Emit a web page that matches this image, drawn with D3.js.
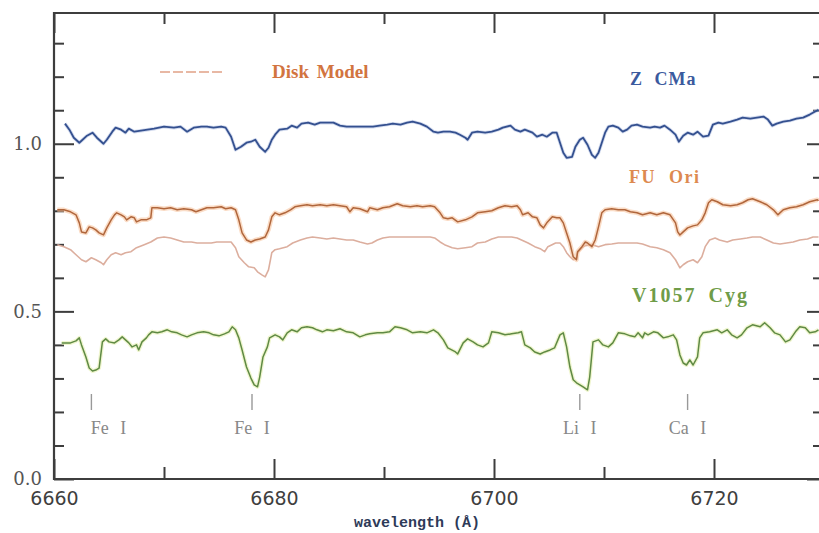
<!DOCTYPE html>
<html><head><meta charset="utf-8">
<script src="https://cdn.jsdelivr.net/npm/d3@7"></script>
<style>html,body{margin:0;padding:0;background:#fff;overflow:hidden}</style>
</head><body>
<svg id="chart" width="819" height="533"></svg>
<script>
// Normalised spectra, [wavelength (Å), relative flux]
const zCMa = [
[6661.0,1.060],[6661.4,1.042],[6661.8,1.018],[6662.3,1.003],[6662.5,1.009],[6663.0,1.024],[6663.5,1.033],[6663.9,1.018],
[6664.5,1.000],[6664.8,1.012],[6665.3,1.036],[6665.6,1.048],[6666.1,1.042],[6666.5,1.033],[6666.8,1.045],[6667.3,1.036],
[6667.9,1.039],[6668.5,1.042],[6669.1,1.045],[6670.0,1.051],[6670.9,1.048],[6671.5,1.051],[6672.1,1.036],[6672.7,1.048],
[6673.4,1.051],[6673.9,1.051],[6674.5,1.048],[6675.2,1.051],[6675.6,1.048],[6676.1,1.021],[6676.5,0.982],[6677.0,0.991],
[6677.5,1.003],[6677.9,1.006],[6678.3,1.012],[6678.7,0.991],[6679.2,0.976],[6679.5,0.988],[6679.8,1.012],[6680.1,1.027],
[6680.5,1.042],[6681.2,1.045],[6681.6,1.054],[6682.1,1.048],[6682.5,1.060],[6683.1,1.063],[6683.7,1.057],[6684.2,1.063],
[6684.8,1.063],[6685.4,1.063],[6686.0,1.054],[6686.6,1.051],[6687.2,1.051],[6687.8,1.051],[6688.5,1.051],[6689.0,1.051],
[6689.6,1.054],[6690.3,1.057],[6690.8,1.060],[6691.5,1.057],[6692.1,1.063],[6692.6,1.066],[6693.3,1.060],[6693.9,1.051],
[6694.5,1.036],[6694.9,1.033],[6695.4,1.036],[6696.0,1.036],[6696.5,1.033],[6696.9,1.027],[6697.4,1.018],[6697.6,1.012],
[6698.0,1.033],[6698.5,1.036],[6699.2,1.033],[6699.8,1.036],[6700.4,1.042],[6700.8,1.048],[6701.5,1.054],[6701.9,1.042],
[6702.4,1.036],[6702.8,1.042],[6703.5,1.033],[6703.9,1.021],[6704.4,1.027],[6704.8,1.021],[6705.3,1.033],[6705.7,1.033],
[6706.0,1.003],[6706.3,0.973],[6706.6,0.958],[6707.1,0.961],[6707.4,0.991],[6707.8,1.012],[6708.1,1.018],[6708.5,0.997],
[6708.9,0.967],[6709.2,0.958],[6709.5,0.973],[6709.8,1.003],[6710.1,1.033],[6710.4,1.051],[6710.8,1.054],[6711.3,1.048],
[6711.7,1.036],[6712.1,1.042],[6712.5,1.054],[6713.0,1.057],[6713.5,1.051],[6714.2,1.048],[6714.6,1.051],[6715.1,1.048],
[6715.5,1.054],[6716.0,1.042],[6716.5,1.027],[6716.8,1.006],[6717.2,1.024],[6717.6,1.033],[6718.1,1.027],[6718.5,1.036],
[6719.0,1.021],[6719.5,1.024],[6719.9,1.057],[6720.4,1.063],[6720.8,1.060],[6721.5,1.066],[6722.1,1.072],[6722.6,1.078],
[6723.3,1.075],[6723.9,1.078],[6724.5,1.081],[6724.9,1.072],[6725.3,1.054],[6725.7,1.060],[6726.3,1.066],[6726.9,1.069],
[6727.5,1.075],[6728.1,1.078],[6728.7,1.087],[6729.2,1.096],[6729.5,1.101]
];
const fuOri = [
[6660.3,0.803],[6660.9,0.803],[6661.5,0.797],[6662.0,0.788],[6662.3,0.764],[6662.5,0.737],[6662.9,0.734],[6663.2,0.752],
[6663.5,0.749],[6663.8,0.743],[6664.1,0.734],[6664.5,0.728],[6664.8,0.749],[6665.2,0.773],[6665.5,0.788],[6665.7,0.794],
[6666.1,0.788],[6666.4,0.782],[6666.6,0.773],[6667.0,0.782],[6667.3,0.779],[6667.5,0.767],[6667.9,0.773],[6668.4,0.773],
[6668.8,0.779],[6668.9,0.809],[6669.4,0.809],[6670.0,0.806],[6670.6,0.809],[6671.2,0.803],[6671.8,0.806],[6672.5,0.803],
[6672.9,0.797],[6673.4,0.803],[6673.9,0.809],[6674.5,0.809],[6675.2,0.812],[6675.6,0.806],[6676.1,0.809],[6676.5,0.803],
[6676.8,0.773],[6677.1,0.734],[6677.5,0.713],[6677.9,0.707],[6678.3,0.713],[6678.7,0.716],[6679.2,0.722],[6679.5,0.743],
[6679.8,0.782],[6680.1,0.794],[6680.5,0.788],[6681.0,0.794],[6681.5,0.803],[6681.9,0.812],[6682.4,0.815],[6683.0,0.818],
[6683.5,0.815],[6684.2,0.818],[6684.8,0.815],[6685.4,0.818],[6686.0,0.815],[6686.6,0.812],[6686.9,0.797],[6687.2,0.809],
[6687.8,0.806],[6688.5,0.797],[6688.7,0.809],[6689.4,0.803],[6689.9,0.809],[6690.5,0.812],[6691.2,0.821],[6691.7,0.815],
[6692.4,0.812],[6693.0,0.815],[6693.5,0.812],[6694.2,0.815],[6694.6,0.812],[6695.1,0.794],[6695.4,0.779],[6695.8,0.776],
[6696.2,0.779],[6696.7,0.767],[6697.4,0.773],[6698.0,0.782],[6698.5,0.794],[6699.2,0.797],[6699.8,0.800],[6700.4,0.809],
[6701.0,0.815],[6701.6,0.812],[6702.1,0.815],[6702.4,0.803],[6702.6,0.788],[6703.1,0.794],[6703.5,0.782],[6703.9,0.779],
[6704.2,0.758],[6704.5,0.749],[6704.8,0.764],[6705.3,0.782],[6705.7,0.779],[6706.0,0.779],[6706.3,0.764],[6706.6,0.734],
[6706.9,0.704],[6707.2,0.663],[6707.5,0.654],[6707.6,0.678],[6708.0,0.693],[6708.3,0.707],[6708.5,0.704],[6708.9,0.693],
[6709.2,0.713],[6709.5,0.752],[6709.8,0.794],[6710.1,0.803],[6710.7,0.806],[6711.3,0.803],[6711.9,0.803],[6712.4,0.797],
[6713.0,0.794],[6713.5,0.788],[6714.2,0.794],[6714.8,0.788],[6715.4,0.794],[6716.0,0.788],[6716.5,0.764],[6716.7,0.737],
[6716.9,0.728],[6717.2,0.737],[6717.6,0.749],[6718.1,0.755],[6718.5,0.758],[6718.9,0.773],[6719.2,0.794],[6719.5,0.824],
[6719.8,0.833],[6720.3,0.827],[6720.8,0.818],[6721.5,0.815],[6722.1,0.818],[6722.6,0.824],[6723.1,0.833],[6723.5,0.836],
[6724.2,0.827],[6724.8,0.818],[6725.4,0.803],[6725.8,0.788],[6726.3,0.803],[6726.9,0.809],[6727.5,0.812],[6728.1,0.818],
[6728.7,0.827],[6729.4,0.833],[6729.5,0.830]
];
const diskModel = [
[6660.3,0.699],[6660.9,0.693],[6661.5,0.684],[6662.0,0.669],[6662.5,0.654],[6662.9,0.648],[6663.4,0.660],[6663.8,0.654],
[6664.3,0.645],[6664.5,0.639],[6664.8,0.654],[6665.2,0.669],[6665.6,0.675],[6666.1,0.669],[6666.5,0.675],[6667.0,0.678],
[6667.5,0.690],[6668.2,0.699],[6668.8,0.707],[6669.4,0.719],[6670.0,0.722],[6670.6,0.719],[6671.2,0.713],[6671.8,0.707],
[6672.5,0.707],[6673.0,0.704],[6673.6,0.704],[6674.3,0.704],[6674.8,0.707],[6675.5,0.707],[6676.1,0.707],[6676.5,0.690],
[6676.8,0.663],[6677.3,0.645],[6677.7,0.633],[6678.2,0.630],[6678.5,0.618],[6678.9,0.609],[6679.2,0.603],[6679.5,0.624],
[6679.8,0.675],[6680.1,0.684],[6680.5,0.687],[6681.2,0.693],[6681.7,0.704],[6682.4,0.713],[6683.0,0.719],[6683.5,0.722],
[6684.2,0.719],[6684.8,0.716],[6685.4,0.719],[6686.0,0.716],[6686.6,0.713],[6687.2,0.713],[6687.8,0.707],[6688.5,0.701],
[6688.9,0.704],[6689.4,0.713],[6689.9,0.719],[6690.5,0.722],[6691.2,0.722],[6691.7,0.722],[6692.4,0.722],[6693.0,0.722],
[6693.5,0.722],[6694.2,0.722],[6694.6,0.719],[6695.1,0.707],[6695.5,0.699],[6696.2,0.690],[6696.7,0.687],[6697.4,0.690],
[6698.0,0.693],[6698.5,0.704],[6699.2,0.707],[6699.8,0.716],[6700.4,0.722],[6701.0,0.722],[6701.6,0.722],[6702.1,0.719],
[6702.5,0.713],[6703.1,0.704],[6703.7,0.693],[6704.2,0.687],[6704.6,0.678],[6704.9,0.693],[6705.6,0.704],[6706.0,0.704],
[6706.3,0.693],[6706.6,0.675],[6706.9,0.663],[6707.2,0.654],[6707.5,0.660],[6707.6,0.675],[6708.0,0.690],[6708.3,0.696],
[6708.9,0.699],[6709.5,0.693],[6710.1,0.699],[6710.7,0.701],[6711.3,0.704],[6711.9,0.704],[6712.4,0.704],[6713.0,0.704],
[6713.5,0.701],[6714.2,0.693],[6714.8,0.690],[6715.4,0.684],[6716.0,0.675],[6716.5,0.654],[6716.9,0.630],[6717.2,0.639],
[6717.6,0.648],[6718.1,0.654],[6718.5,0.645],[6718.9,0.663],[6719.2,0.693],[6719.6,0.713],[6720.1,0.719],[6720.5,0.713],
[6721.2,0.707],[6721.7,0.713],[6722.4,0.716],[6723.0,0.719],[6723.5,0.722],[6724.2,0.722],[6724.8,0.713],[6725.4,0.704],
[6726.0,0.701],[6726.6,0.704],[6727.2,0.707],[6727.8,0.713],[6728.5,0.716],[6729.0,0.722],[6729.5,0.722]
];
const v1057Cyg = [
[6660.7,0.406],[6661.1,0.406],[6661.5,0.406],[6662.0,0.412],[6662.3,0.421],[6662.5,0.400],[6662.9,0.364],[6663.2,0.331],
[6663.5,0.322],[6663.8,0.325],[6664.1,0.331],[6664.4,0.409],[6664.7,0.418],[6665.0,0.409],[6665.5,0.406],[6665.9,0.415],
[6666.2,0.424],[6666.5,0.415],[6666.8,0.406],[6667.1,0.394],[6667.5,0.400],[6667.7,0.385],[6668.0,0.409],[6668.4,0.421],
[6668.6,0.430],[6668.9,0.439],[6669.4,0.436],[6669.8,0.439],[6670.3,0.445],[6670.7,0.439],[6671.2,0.436],[6671.6,0.430],
[6672.1,0.424],[6672.5,0.430],[6673.0,0.436],[6673.6,0.439],[6674.1,0.436],[6674.5,0.430],[6675.0,0.427],[6675.5,0.433],
[6675.9,0.439],[6676.2,0.454],[6676.5,0.445],[6676.8,0.421],[6677.1,0.385],[6677.5,0.334],[6677.9,0.301],[6678.2,0.281],
[6678.5,0.275],[6678.7,0.304],[6679.0,0.364],[6679.4,0.394],[6679.6,0.421],[6680.1,0.430],[6680.5,0.424],[6680.8,0.415],
[6681.2,0.436],[6681.6,0.445],[6682.1,0.439],[6682.5,0.451],[6683.0,0.454],[6683.5,0.451],[6683.9,0.445],[6684.4,0.439],
[6684.8,0.445],[6685.4,0.442],[6686.0,0.448],[6686.6,0.439],[6687.2,0.436],[6687.8,0.424],[6688.3,0.430],[6688.7,0.433],
[6689.4,0.436],[6689.9,0.436],[6690.5,0.439],[6691.0,0.454],[6691.5,0.451],[6692.1,0.445],[6692.6,0.436],[6693.3,0.439],
[6693.9,0.436],[6694.5,0.445],[6694.9,0.436],[6695.4,0.415],[6695.8,0.391],[6696.5,0.379],[6696.7,0.373],[6697.2,0.406],
[6697.6,0.418],[6698.1,0.409],[6698.5,0.400],[6699.0,0.394],[6699.5,0.406],[6699.8,0.439],[6700.4,0.436],[6701.0,0.430],
[6701.6,0.433],[6702.2,0.436],[6702.5,0.439],[6702.8,0.400],[6703.3,0.391],[6703.7,0.379],[6704.2,0.373],[6704.6,0.379],
[6705.1,0.385],[6705.5,0.391],[6706.0,0.430],[6706.3,0.436],[6706.6,0.394],[6706.9,0.334],[6707.2,0.296],[6707.5,0.287],
[6707.8,0.281],[6708.1,0.275],[6708.5,0.266],[6708.7,0.304],[6709.0,0.409],[6709.5,0.415],[6709.9,0.400],[6710.4,0.394],
[6710.8,0.406],[6711.3,0.436],[6711.9,0.433],[6712.4,0.427],[6712.8,0.424],[6713.1,0.436],[6713.5,0.421],[6713.7,0.436],
[6714.0,0.430],[6714.5,0.439],[6714.9,0.436],[6715.4,0.421],[6715.8,0.424],[6716.3,0.430],[6716.6,0.415],[6716.9,0.370],
[6717.2,0.346],[6717.5,0.340],[6717.8,0.355],[6718.1,0.340],[6718.5,0.364],[6718.7,0.421],[6719.0,0.436],[6719.6,0.439],
[6720.3,0.445],[6720.7,0.436],[6721.2,0.445],[6721.6,0.430],[6722.1,0.421],[6722.5,0.430],[6723.0,0.451],[6723.5,0.460],
[6724.2,0.454],[6724.6,0.466],[6725.1,0.451],[6725.5,0.436],[6726.0,0.430],[6726.5,0.409],[6726.9,0.415],[6727.4,0.439],
[6727.8,0.454],[6728.3,0.451],[6728.7,0.436],[6729.2,0.439],[6729.5,0.445]
];

// Axis ticks
const xMajorTicks = [6660, 6680, 6700, 6720];
const xMinorTicks = [6670, 6690, 6710, 6730];
const yMajorTicks = [0.0, 0.5, 1.0];
const yMinorTicks = [0.1, 0.2, 0.3, 0.4, 0.6, 0.7, 0.8, 0.9, 1.1, 1.2, 1.3];

// Identified absorption lines
const lineNames = ["Fe I", "Fe I", "Li I", "Ca I"];
const lineWavelengths = [6663.4, 6678.0, 6707.8, 6717.6];

// Series labels
const seriesNames = ["Z CMa", "FU Ori", "V1057 Cyg"];
const legendName = "Disk Model";

const svg = d3.select("#chart");
const W = 819, H = 533;
const mLeft = 54, mTop = 13, mBottom = 479, mRight = 824;

const x = d3.scaleLinear().domain([6660, 6730]).range([mLeft, mRight]);
const y = d3.scaleLinear().domain([0, 1.39]).range([mBottom, mTop]);

svg.append("rect").attr("width", W).attr("height", H).attr("fill", "#fff");

svg.append("defs").append("clipPath").attr("id", "plotClip")
  .append("rect").attr("x", mLeft).attr("y", mTop).attr("width", mRight - mLeft).attr("height", mBottom - mTop);

const axisColor = "#3d3d3d";

function styleAxis(g) {
  g.select(".domain").remove();
  g.selectAll(".tick line").attr("stroke", axisColor).attr("stroke-width", 2);
}

// bottom axis
svg.append("g").attr("transform", `translate(0,${mBottom})`)
  .call(d3.axisBottom(x).tickValues(xMajorTicks).tickSize(-20).tickPadding(13).tickFormat(d3.format("d")))
  .call(styleAxis)
  .call(g => g.selectAll("text").attr("font-family", "DejaVu Sans").attr("font-size", 19).attr("fill", "#3f3f3f"));
svg.append("g").attr("transform", `translate(0,${mBottom})`)
  .call(d3.axisBottom(x).tickValues(xMinorTicks).tickSize(-12).tickFormat(""))
  .call(styleAxis);
// top axis
svg.append("g").attr("transform", `translate(0,${mTop})`)
  .call(d3.axisTop(x).tickValues(xMajorTicks).tickSize(-20).tickFormat(""))
  .call(styleAxis);
svg.append("g").attr("transform", `translate(0,${mTop})`)
  .call(d3.axisTop(x).tickValues(xMinorTicks).tickSize(-11).tickFormat(""))
  .call(styleAxis);
// left axis
svg.append("g").attr("transform", `translate(${mLeft},0)`)
  .call(d3.axisLeft(y).tickValues(yMajorTicks).tickSize(-20).tickPadding(12).tickFormat(d3.format(".1f")))
  .call(styleAxis)
  .call(g => g.selectAll("text").attr("font-family", "DejaVu Serif").attr("font-size", 18).attr("fill", "#555"));
svg.append("g").attr("transform", `translate(${mLeft},0)`)
  .call(d3.axisLeft(y).tickValues(yMinorTicks).tickSize(-10).tickFormat(""))
  .call(styleAxis);
// right axis
svg.append("g").attr("transform", `translate(${mRight},0)`)
  .call(d3.axisRight(y).tickValues(yMajorTicks).tickSize(-17).tickFormat(""))
  .call(styleAxis);
svg.append("g").attr("transform", `translate(${mRight},0)`)
  .call(d3.axisRight(y).tickValues(yMinorTicks).tickSize(-11).tickFormat(""))
  .call(styleAxis);

// frame
svg.append("path")
  .attr("d", `M${mRight},${mTop}H${mLeft}V${mBottom}H${mRight}`)
  .attr("fill", "none").attr("stroke", axisColor).attr("stroke-width", 2.2);

// spectra
const line = d3.line().x(d => x(d[0])).y(d => y(d[1]));
const plot = svg.append("g").attr("clip-path", "url(#plotClip)");

function drawSpectrum(data, halo, haloW, core, coreW) {
  if (halo) plot.append("path").datum(data).attr("d", line).attr("fill", "none")
    .attr("stroke", halo).attr("stroke-width", haloW).attr("stroke-linejoin", "round").attr("opacity", 0.55);
  plot.append("path").datum(data).attr("d", line).attr("fill", "none")
    .attr("stroke", core).attr("stroke-width", coreW).attr("stroke-linejoin", "round");
}
drawSpectrum(diskModel, null, 0, "#dcae9e", 1.6);
drawSpectrum(zCMa, "#aebde0", 3.5, "#34508f", 1.8);
drawSpectrum(fuOri, "#f6bf98", 4.5, "#b0663c", 1.5);
drawSpectrum(v1057Cyg, "#e2eca6", 4, "#5f8a44", 1.5);

// line identifications
const idG = svg.append("g");
lineWavelengths.forEach((wl, i) => {
  const px = x(wl);
  idG.append("line").attr("x1", px).attr("x2", px).attr("y1", 394).attr("y2", 410)
    .attr("stroke", "#999").attr("stroke-width", 1.4);
  const shift = i === 0 ? 17 : 0;
  idG.append("text").attr("x", px + shift).attr("y", 434)
    .attr("text-anchor", "middle").attr("font-family", "Liberation Serif").attr("font-size", 18)
    .attr("fill", "#888").attr("word-spacing", 7).text(lineNames[i]);
});

// legend swatch for the model
svg.append("line").attr("x1", 160).attr("x2", 222).attr("y1", 72).attr("y2", 72)
  .attr("stroke", "#e8b8a4").attr("stroke-width", 2).attr("stroke-dasharray", "10,3");
const labelFont = "Liberation Serif";
svg.append("text").attr("x", 272).attr("y", 78).attr("font-family", labelFont).attr("font-size", 19)
  .attr("font-weight", "bold").attr("fill", "#d2743f").attr("word-spacing", 3).text(legendName);
const seriesColors = ["#3b5a9e", "#dd8a50", "#6f9c48"];
const seriesLabelPos = [[630, 85], [629, 183], [632, 302]];
const seriesLabelSize = [18, 18, 20];
const seriesLetterSpacing = [1, 1.5, 2];
const seriesWordSpacing = [6, 7, 5];
seriesNames.forEach((n, i) => {
  svg.append("text").attr("x", seriesLabelPos[i][0]).attr("y", seriesLabelPos[i][1])
    .attr("font-family", labelFont).attr("font-size", seriesLabelSize[i]).attr("font-weight", "bold")
    .attr("letter-spacing", seriesLetterSpacing[i]).attr("word-spacing", seriesWordSpacing[i])
    .attr("fill", seriesColors[i]).text(n);
});

// axis title
svg.append("text").attr("x", 417).attr("y", 527).attr("text-anchor", "middle")
  .attr("font-family", "Liberation Mono").attr("font-weight", "bold").attr("font-size", 15)
  .attr("fill", "#2e3a58").text("wavelength (Å)");
</script>
</body></html>
